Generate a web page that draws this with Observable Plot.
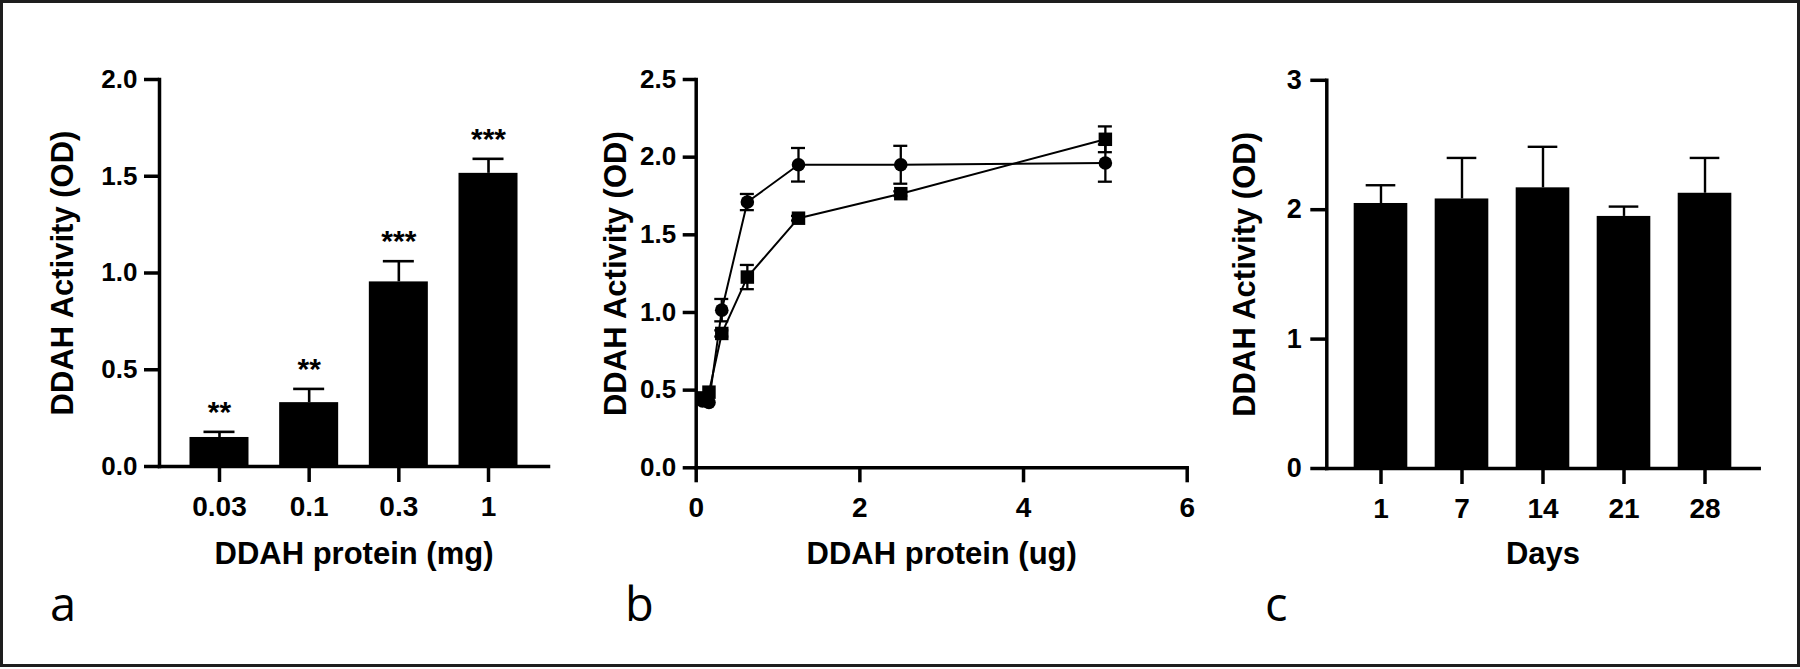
<!DOCTYPE html>
<html><head><meta charset="utf-8">
<script src="https://cdn.jsdelivr.net/npm/d3@7"></script>
<script src="https://cdn.jsdelivr.net/npm/@observablehq/plot@0.6"></script>
<style>
body{margin:0;background:#fff;}
#fig{position:relative;width:1800px;height:669px;overflow:hidden;background:#fff;}
.panel{position:absolute;top:0;}
.tag{position:absolute;font-family:"Open Sans",sans-serif;font-size:47px;line-height:1;color:#000;white-space:nowrap;}
#border{position:absolute;left:0;top:0;width:1800px;height:667px;box-sizing:border-box;border:3px solid #1e1e1e;pointer-events:none;}
</style></head>
<body><div id="fig"></div>
<script>
// ---- Panel a: bar chart by dose (mg)
const doseA = ["0.03", "0.1", "0.3", "1"];
const activityA = [0.150, 0.330, 0.954, 1.515];
const errA = [0.029, 0.071, 0.107, 0.075];
const starsA = ["**", "**", "***", "***"];

// ---- Panel b: dose-response (ug), two series
const doseB = [0.078, 0.156, 0.3125, 0.625, 1.25, 2.5, 5];
const circleB = [0.430, 0.420, 1.015, 1.711, 1.951, 1.951, 1.962];
const circleErrB = [0, 0, 0.072, 0.052, 0.108, 0.122, 0.120];
const squareB = [0.450, 0.487, 0.865, 1.228, 1.607, 1.765, 2.115];
const squareErrB = [0, 0, 0.020, 0.078, 0.015, 0.015, 0.083];

// ---- Panel c: stability over days
const daysC = ["1", "7", "14", "21", "28"];
const activityC = [2.048, 2.083, 2.169, 1.948, 2.127];
const errC = [0.141, 0.317, 0.317, 0.076, 0.273];

const ticksA = [0, 0.5, 1, 1.5, 2];
const ticksBy = [0, 0.5, 1, 1.5, 2, 2.5];
const ticksBx = [0, 2, 4, 6];
const ticksC = [0, 1, 2, 3];

const yTitle = "DDAH Activity (OD)";
const FONT = "'Liberation Sans', Arial, Helvetica, sans-serif";
const baseStyle = {fontFamily: FONT, color: "#000", background: "transparent", overflow: "visible", fontSize: "26px"};
const f1 = d3.format(".1f");

const fig = document.getElementById("fig");
function place(svg, left) {
  svg.classList.add("panel");
  svg.style.left = left + "px";
  fig.appendChild(svg);
}

// Panel a
const dataA = doseA.map((d, i) => ({dose: d, v: activityA[i], hi: activityA[i] + errA[i], star: starsA[i]}));
const plotA = Plot.plot({
  width: 600, height: 669,
  marginLeft: 159, marginRight: 52, marginTop: 79, marginBottom: 203,
  style: baseStyle,
  x: {type: "band", domain: doseA, paddingInner: 0.342, paddingOuter: 0.34, round: false},
  y: {domain: [0, 2]},
  marks: [
    Plot.barY(dataA, {x: "dose", y: "v", fill: "#000"}),
    Plot.ruleX(dataA, {x: "dose", y1: "v", y2: "hi", stroke: "#000", strokeWidth: 2.6}),
    Plot.tickY(dataA, {x: "dose", y: "hi", insetLeft: 14, insetRight: 14, stroke: "#000", strokeWidth: 2.6}),
    Plot.text(dataA, {x: "dose", y: "hi", text: "star", dy: -10, lineAnchor: "bottom", fontSize: 30, fontWeight: "bold", fill: "#000"}),
    Plot.frame({anchor: "left", stroke: "#000", strokeWidth: 3.5}),
    Plot.frame({anchor: "bottom", stroke: "#000", strokeWidth: 3.5}),
    Plot.axisY({ticks: ticksA, tickFormat: f1, tickSize: 15, tickPadding: 7, stroke: "#000", strokeWidth: 3.5, fontSize: 26, fontWeight: "bold", label: null}),
    Plot.axisY({ticks: [], tickSize: 0, label: yTitle, labelAnchor: "center", labelArrow: "none", labelOffset: 109, fontSize: 31, fontWeight: "bold"}),
    Plot.axisX({tickSize: 16, tickPadding: 14, stroke: "#000", strokeWidth: 3.5, fontSize: 28, fontWeight: "bold", label: null}),
    Plot.axisX({ticks: [], tickSize: 0, label: "DDAH protein (mg)", labelAnchor: "center", labelArrow: "none", labelOffset: 97, fontSize: 31, fontWeight: "bold"})
  ]
});
place(plotA, 0);

// Panel b
const circles = doseB.map((x, i) => ({x, y: circleB[i], lo: circleB[i] - circleErrB[i], hi: circleB[i] + circleErrB[i], e: circleErrB[i]}));
const squares = doseB.map((x, i) => ({x, y: squareB[i], lo: squareB[i] - squareErrB[i], hi: squareB[i] + squareErrB[i], e: squareErrB[i]}));
const errs = circles.concat(squares).filter(d => d.e > 0);
const plotB = Plot.plot({
  width: 620, height: 669,
  marginLeft: 95.7, marginRight: 33.3, marginTop: 79, marginBottom: 201.7,
  style: baseStyle,
  x: {domain: [0, 6]},
  y: {domain: [0, 2.5]},
  marks: [
    Plot.link(errs, {x1: "x", x2: "x", y1: "lo", y2: "hi", stroke: "#000", strokeWidth: 2.3}),
    Plot.ruleY(errs, {y: "hi", x1: "x", x2: "x", insetLeft: -7, insetRight: -7, stroke: "#000", strokeWidth: 2.3}),
    Plot.ruleY(errs, {y: "lo", x1: "x", x2: "x", insetLeft: -7, insetRight: -7, stroke: "#000", strokeWidth: 2.3}),
    Plot.line(circles, {x: "x", y: "y", stroke: "#000", strokeWidth: 2}),
    Plot.line(squares, {x: "x", y: "y", stroke: "#000", strokeWidth: 2}),
    Plot.dot(circles, {x: "x", y: "y", r: 6.8, symbol: "circle", fill: "#000", stroke: "none"}),
    Plot.dot(squares, {x: "x", y: "y", r: 7.6, symbol: "square", fill: "#000", stroke: "none"}),
    Plot.frame({anchor: "left", stroke: "#000", strokeWidth: 3.5}),
    Plot.frame({anchor: "bottom", stroke: "#000", strokeWidth: 3.5}),
    Plot.axisY({ticks: ticksBy, tickFormat: f1, tickSize: 13, tickPadding: 7, stroke: "#000", strokeWidth: 3.5, fontSize: 26, fontWeight: "bold", label: null}),
    Plot.axisY({ticks: [], tickSize: 0, label: yTitle, labelAnchor: "center", labelArrow: "none", labelOffset: 92, fontSize: 31, fontWeight: "bold"}),
    Plot.axisX({ticks: ticksBx, tickFormat: d3.format("d"), tickSize: 15, tickPadding: 14, stroke: "#000", strokeWidth: 3.5, fontSize: 28, fontWeight: "bold", label: null}),
    Plot.axisX({ticks: [], tickSize: 0, label: "DDAH protein (ug)", labelAnchor: "center", labelArrow: "none", labelOffset: 96, fontSize: 31, fontWeight: "bold"})
  ]
});
place(plotB, 600);

// Panel c
const dataC = daysC.map((d, i) => ({day: d, v: activityC[i], hi: activityC[i] + errC[i]}));
const plotC = Plot.plot({
  width: 580, height: 669,
  marginLeft: 106.3, marginRight: 41.3, marginTop: 79.8, marginBottom: 201,
  style: baseStyle,
  x: {type: "band", domain: daysC, paddingInner: 0.338, paddingOuter: 0.338, round: false},
  y: {domain: [0, 3]},
  marks: [
    Plot.barY(dataC, {x: "day", y: "v", fill: "#000"}),
    Plot.ruleX(dataC, {x: "day", y1: "v", y2: "hi", stroke: "#000", strokeWidth: 2.4}),
    Plot.tickY(dataC, {x: "day", y: "hi", insetLeft: 12, insetRight: 12, stroke: "#000", strokeWidth: 2.4}),
    Plot.frame({anchor: "left", stroke: "#000", strokeWidth: 3.5}),
    Plot.frame({anchor: "bottom", stroke: "#000", strokeWidth: 3.5}),
    Plot.axisY({ticks: ticksC, tickFormat: d3.format("d"), tickSize: 16, tickPadding: 9, stroke: "#000", strokeWidth: 3.5, fontSize: 27, fontWeight: "bold", label: null}),
    Plot.axisY({ticks: [], tickSize: 0, label: yTitle, labelAnchor: "center", labelArrow: "none", labelOffset: 94, fontSize: 31, fontWeight: "bold"}),
    Plot.axisX({tickSize: 16, tickPadding: 14, stroke: "#000", strokeWidth: 3.5, fontSize: 28, fontWeight: "bold", label: null}),
    Plot.axisX({ticks: [], tickSize: 0, label: "Days", labelAnchor: "center", labelArrow: "none", labelOffset: 95, fontSize: 31, fontWeight: "bold"})
  ]
});
place(plotC, 1220);

// Panel tags
[["a", 50], ["b", 625], ["c", 1265]].forEach(([t, left]) => {
  const d = document.createElement("div");
  d.className = "tag";
  d.textContent = t;
  d.style.left = left + "px";
  d.style.top = "580px";
  fig.appendChild(d);
});
const border = document.createElement("div");
border.id = "border";
fig.appendChild(border);
</script>
</body></html>
